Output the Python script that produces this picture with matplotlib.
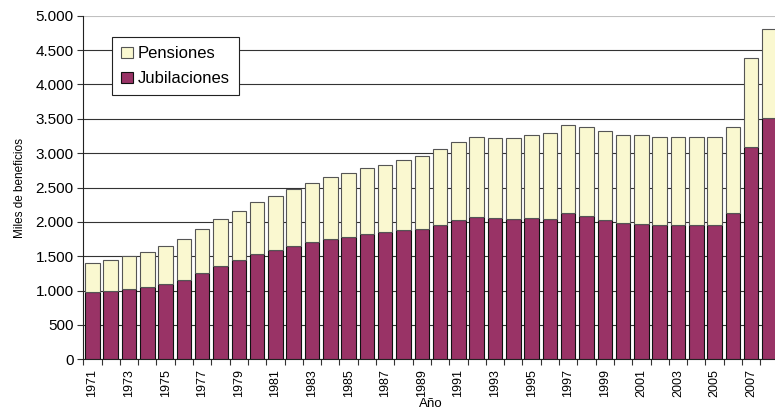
import numpy as np
import matplotlib
matplotlib.use('Agg')
import matplotlib.pyplot as plt

# data (miles de beneficios)
years = list(range(1971, 2009))
total = [1406, 1445, 1499, 1562, 1654, 1746, 1892, 2037, 2163, 2292,
         2381, 2478, 2565, 2657, 2715, 2783, 2832, 2900, 2953, 3055,
         3157, 3234, 3225, 3216, 3259, 3288, 3405, 3376, 3317, 3264,
         3259, 3235, 3235, 3230, 3230, 3385, 4380, 4802]
jubilaciones = [985, 994, 1023, 1052, 1101, 1149, 1256, 1358, 1445, 1535,
                1586, 1653, 1702, 1746, 1779, 1818, 1848, 1877, 1896, 1954,
                2022, 2075, 2056, 2042, 2056, 2047, 2129, 2086, 2027, 1984,
                1964, 1955, 1955, 1950, 1955, 2129, 3089, 3507]
pensiones = [t - j for t, j in zip(total, jubilaciones)]

plt.rcParams['font.family'] = ['Liberation Sans', 'DejaVu Sans']

fig = plt.figure(figsize=(7.75, 4.09), dpi=100)
ax = fig.add_axes([0.1074, 0.1215, 0.8973, 0.8401])

x = np.arange(len(years))
ax.bar(x, jubilaciones, width=0.79, color='#993366', edgecolor='#111111',
       linewidth=0.8, label='Jubilaciones', zorder=3)
ax.bar(x, pensiones, width=0.79, bottom=jubilaciones, color='#FAF8D0',
       edgecolor='#555555', linewidth=0.8, label='Pensiones', zorder=3)

ax.set_xlim(-0.5, len(years) - 0.5)
ax.set_ylim(0, 5000)
ax.set_yticks(np.arange(0, 5001, 500))
ax.set_yticklabels([f'{v:,}'.replace(',', '.') for v in range(0, 5001, 500)],
                   fontsize=11)

ax.set_xticks(x[::2])
ax.set_xticklabels([str(y) for y in years[::2]], rotation=90, fontsize=9)
ax.set_xticks(np.arange(-0.5, len(years), 1), minor=True)
ax.tick_params(axis='x', which='major', length=0, pad=7)
ax.tick_params(axis='x', which='minor', length=4, width=0.8, color='#333333')
ax.tick_params(axis='y', length=4, width=0.8, color='#333333', pad=3)

ax.yaxis.grid(True, color='#333333', linewidth=0.8, zorder=0)
ax.yaxis.get_gridlines()[-1].set_color('#c0c0c0')
ax.set_axisbelow(True)
for s in ['top', 'right']:
    ax.spines[s].set_visible(False)
ax.spines['left'].set_color('#222222')
ax.spines['bottom'].set_color('#222222')

ax.set_ylabel('Miles de beneficios', fontsize=8.5, labelpad=7)
ax.set_xlabel('Año', fontsize=9.5, labelpad=1)

handles, labels = ax.get_legend_handles_labels()
leg = ax.legend(handles[::-1], labels[::-1], loc='upper left',
                bbox_to_anchor=(0.041, 0.938), borderaxespad=0,
                fontsize=12, fancybox=False, framealpha=1, edgecolor='#222222',
                handlelength=0.7, handleheight=0.7, labelspacing=0.6,
                handletextpad=0.3, borderpad=0.55)
leg.get_frame().set_linewidth(0.8)

fig.savefig('out.png', dpi=100)
